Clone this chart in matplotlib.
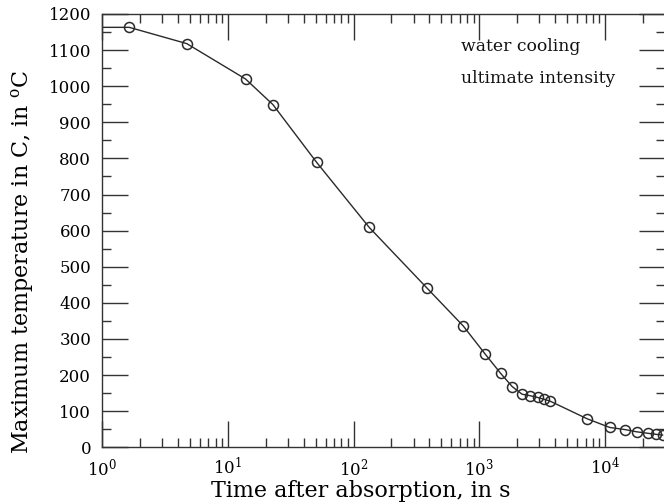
import numpy as np
import matplotlib
matplotlib.use('Agg')
import matplotlib.pyplot as plt
from matplotlib.ticker import MultipleLocator, LogLocator, LogFormatterMathtext, NullFormatter

plt.rcParams['font.family'] = ['DejaVu Serif']
plt.rcParams['mathtext.fontset'] = 'dejavuserif'

# time after absorption (s) and maximum temperature (C)
time_s = [1.0, 1.64, 4.7, 13.8, 22.8, 50.8, 133, 381, 745, 1114, 1476, 1828,
          2190, 2530, 2910, 3280, 3650, 7210, 10900, 14500, 17800, 21800, 25400, 28700]
temp_c = [1163, 1163, 1118, 1020, 949, 789, 609, 442, 336, 258, 205, 168,
          147, 143, 138, 133, 128, 79, 55, 49, 43, 39, 36, 34]

notes = ['water cooling', 'ultimate intensity']

fig = plt.figure(figsize=(6.64, 5.03), dpi=100)
ax = fig.add_axes([0.154, 0.1107, 0.8475, 0.8615])

ax.plot(time_s, temp_c, color='#2a2a2a', lw=1.0, marker='o', ms=7.2,
        mfc='none', mec='#2a2a2a', mew=1.1, markevery=list(range(1, len(time_s))))

ax.set_xscale('log')
ax.set_xlim(1, 3e4)
ax.set_ylim(0, 1200)

ax.yaxis.set_major_locator(MultipleLocator(100))
ax.yaxis.set_minor_locator(MultipleLocator(50))
ax.xaxis.set_major_locator(LogLocator(base=10, numticks=10))
ax.xaxis.set_minor_locator(LogLocator(base=10, subs=np.arange(2, 10), numticks=20))
ax.xaxis.set_major_formatter(LogFormatterMathtext())
ax.xaxis.set_minor_formatter(NullFormatter())

ax.tick_params(which='both', direction='in', top=True, right=True,
               labelsize=12, color='#333333', width=1.0)
ax.tick_params(which='major', length=18.5)
ax.tick_params(which='minor', length=6.5)
ax.tick_params(axis='y', which='major', pad=8)
ax.tick_params(axis='x', which='major', pad=7)
for s in ax.spines.values():
    s.set_color('#333333')
    s.set_linewidth(1.0)

ax.set_xlabel('Time after absorption, in s', fontsize=16, labelpad=1)
ax.set_ylabel(r'Maximum temperature in C, in $^{\mathrm{o}}$C', fontsize=16, labelpad=8)
ax.xaxis.set_label_coords(0.46, -0.075)
ax.yaxis.set_label_coords(-0.118, 0.428)

for i, t in enumerate(notes):
    ax.text(0.637, 0.915 - i * 0.074, t, transform=ax.transAxes, fontsize=12.4,
            color='#111111', ha='left', va='baseline')

fig.savefig('out.png', dpi=100)
